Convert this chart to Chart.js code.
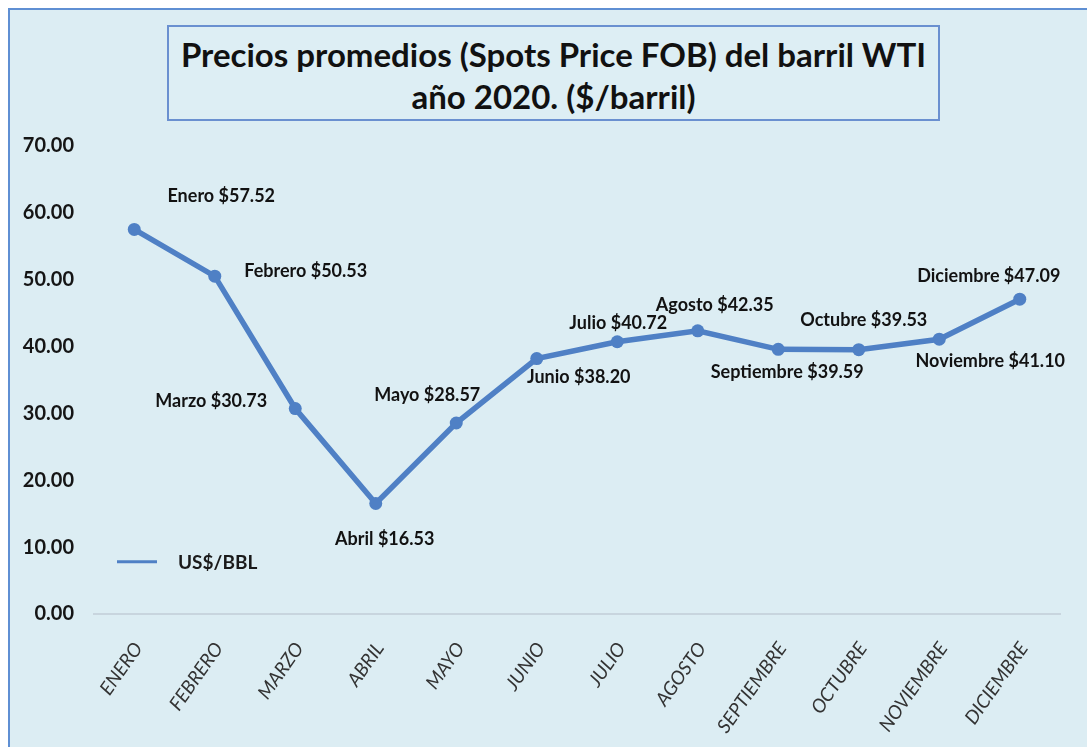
<!DOCTYPE html>
<html lang="es">
<head>
<meta charset="utf-8">
<title>Precios promedios WTI 2020</title>
<script src="https://cdn.jsdelivr.net/npm/chart.js@4.4.1/dist/chart.umd.min.js"></script>
<style>
  html, body { margin: 0; padding: 0; background: #ffffff; overflow: hidden; }
  #frame {
    position: absolute; left: 8px; top: 8px; width: 1200px; height: 800px;
    background: #dcedf3; border-top: 2px solid #5f8fd3; border-left: 2px solid #5f8fd3;
  }
  #wrap { position: absolute; left: 0; top: 0; width: 1087px; height: 747px; }
  #titleBox {
    position: absolute; left: 167px; top: 25px; width: 773px; height: 96px;
    box-sizing: border-box; border: 2px solid #6a90d0; background: #ddeef4;
    font-family: Lato, "Open Sans", sans-serif; font-weight: bold; font-size: 33px;
    color: #111; text-align: center; line-height: 42px; padding-top: 6px;
  }
</style>
</head>
<body>
<div id="frame"></div>
<div id="wrap">
  <canvas id="wtiChart" width="1087" height="747"></canvas>
  <div id="titleBox">Precios promedios (Spots Price FOB) del barril WTI<br>año 2020. ($/barril)</div>
</div>
<script>
// monthly average WTI spot price, 2020
const months = ['Enero', 'Febrero', 'Marzo', 'Abril', 'Mayo', 'Junio', 'Julio', 'Agosto',
  'Septiembre', 'Octubre', 'Noviembre', 'Diciembre'];
const prices = [57.52, 50.53, 30.73, 16.53, 28.57, 38.20, 40.72, 42.35, 39.59, 39.53, 41.10, 47.09];
const seriesName = 'US$/BBL';
const yTicks = [0, 10, 20, 30, 40, 50, 60, 70];

// where each value label sits relative to its point (centre x, middle y)
const labelOffsets = [
  [87, -33], [91, -5], [-84, -7], [9, 36], [-29, -28], [42, 19],
  [1, -19], [17, -26], [9, 23], [5, -30], [51, 22], [-31, -23]
];

const lineColor = '#4f80c5';
const fontFamily = 'Lato, "Open Sans", sans-serif';

const valueLabels = {
  id: 'valueLabels',
  afterDatasetsDraw(chart) {
    const ctx = chart.ctx;
    const meta = chart.getDatasetMeta(0);
    ctx.save();
    ctx.font = 'bold 18px ' + fontFamily;
    ctx.fillStyle = '#121212';
    ctx.textAlign = 'center';
    ctx.textBaseline = 'middle';
    meta.data.forEach((pt, i) => {
      const [dx, dy] = labelOffsets[i];
      ctx.fillText(months[i] + ' $' + prices[i].toFixed(2), pt.x + dx, pt.y + dy);
    });
    ctx.restore();
  }
};

// legend swatch drawn inside the plot, lower left
const innerLegend = {
  id: 'innerLegend',
  afterDraw(chart) {
    const { ctx, chartArea } = chart;
    const y = chart.scales.y.getPixelForValue(7.8);
    ctx.save();
    ctx.strokeStyle = lineColor;
    ctx.lineWidth = 3;
    ctx.beginPath();
    ctx.moveTo(chartArea.left + 23, y);
    ctx.lineTo(chartArea.left + 63, y);
    ctx.stroke();
    ctx.font = 'bold 19px ' + fontFamily;
    ctx.fillStyle = '#1a1a1a';
    ctx.textBaseline = 'middle';
    ctx.fillText(seriesName, chartArea.left + 84, y + 1);
    ctx.restore();
  }
};

new Chart(document.getElementById('wtiChart'), {
  type: 'line',
  data: {
    labels: months.map(m => m.toUpperCase()),
    datasets: [{
      label: seriesName,
      data: prices,
      borderColor: lineColor,
      backgroundColor: lineColor,
      borderWidth: 5.5,
      pointRadius: 6.5,
      pointBorderWidth: 0,
      tension: 0
    }]
  },
  options: {
    responsive: false,
    animation: false,
    layout: { padding: { top: 146, right: 27, bottom: 0, left: 0 } },
    plugins: {
      legend: { display: false },
      tooltip: { enabled: false }
    },
    scales: {
      y: {
        min: 0,
        max: 70,
        afterFit(scale) { scale.width = 94; },
        afterBuildTicks(scale) { scale.ticks = yTicks.map(v => ({ value: v })); },
        grid: { display: false },
        border: { display: false },
        ticks: {
          padding: 12,
          color: '#151515',
          font: { family: fontFamily, weight: 'bold', size: 20 },
          callback: v => v.toFixed(2)
        }
      },
      x: {
        offset: true,
        afterFit(scale) { scale.height = 133; },
        grid: { display: false },
        border: { display: true, color: '#c8d5de', width: 2 },
        ticks: {
          minRotation: 55,
          maxRotation: 55,
          padding: 16,
          labelOffset: 4,
          color: '#333',
          font: { family: fontFamily, style: 'italic', size: 19 }
        }
      }
    }
  },
  plugins: [valueLabels, innerLegend]
});
</script>
</body>
</html>
